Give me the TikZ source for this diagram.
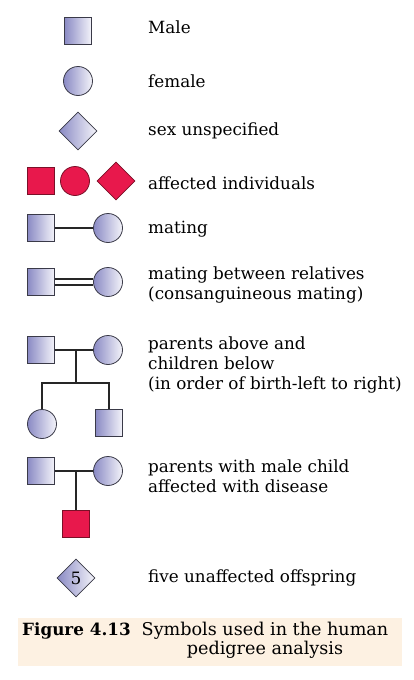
\documentclass[tikz,border=0pt]{standalone}
\usepackage{fontspec}
\setmainfont{DejaVu Serif}
\usetikzlibrary{shapes.geometric}
\definecolor{lav}{HTML}{8A8AC4}
\definecolor{lavlight}{HTML}{F4F4FA}
\definecolor{edge}{HTML}{3A3A48}
\definecolor{aff}{HTML}{E8184C}
\definecolor{affedge}{HTML}{7A1028}
\definecolor{peach}{HTML}{FDF1E2}
\tikzset{
  symsq/.style={rectangle, minimum size=27, inner sep=0, draw=edge, line width=0.8, left color=lav, right color=lavlight},
  symci/.style={circle, minimum size=29, inner sep=0, draw=edge, line width=0.8, left color=lav, right color=lavlight},
  symdi/.style={diamond, minimum width=38, minimum height=38, inner sep=0, draw=edge, line width=0.8, left color=lav, right color=lavlight},
  affsq/.style={rectangle, minimum size=27, inner sep=0, draw=affedge, line width=0.8, fill=aff},
  affci/.style={circle, minimum size=29, inner sep=0, draw=affedge, line width=0.8, fill=aff},
  affdi/.style={diamond, minimum width=38, minimum height=38, inner sep=0, draw=affedge, line width=0.8, fill=aff},
  lbl/.style={anchor=west, align=left, inner sep=0, font=\fontsize{16.8}{20}\selectfont},
  conn/.style={line width=1.4, draw=black!85}
}
\begin{document}
\begin{tikzpicture}[x=1pt,y=-1pt]
\useasboundingbox (0,0) rectangle (413,680);
% legend symbols
\node[symsq] (male) at (78,31) {};
\node[lbl] (tmale) at (148,27) {Male};
\node[symci] (female) at (78,81) {};
\node[lbl] (tfemale) at (148,81) {female};
\node[symdi] (unsp) at (78,131) {};
\node[lbl] (tunsp) at (148,131) {sex unspecified};
\node[affsq] (am) at (41,181) {};
\node[affci] (af) at (75,181) {};
\node[affdi] (ad) at (116,181) {};
\node[lbl] (taff) at (148,183) {affected individuals};
% mating
\node[symsq] (m1) at (41,228) {};
\node[symci] (f1) at (108,228) {};
\draw[conn] (m1.east) -- (f1.west);
\node[lbl] (tmat) at (148,229) {mating};
% consanguineous
\node[symsq] (m2) at (41,282) {};
\node[symci] (f2) at (108,282) {};
\draw[conn, line width=1.2] ([yshift=-3]m2.east) -- ([yshift=-3]f2.west);
\draw[conn, line width=1.2] ([yshift=3]m2.east) -- ([yshift=3]f2.west);
\node[lbl] (tcons) at (148,285) {mating between relatives\\(consanguineous mating)};
% parents and children
\node[symsq] (m3) at (41,350) {};
\node[symci] (f3) at (108,350) {};
\coordinate (mid3) at (76,350);
\coordinate (drop3) at (76,383);
\node[symci] (c1) at (42,424) {};
\node[symsq] (c2) at (109,423) {};
\draw[conn] (m3.east) -- (f3.west);
\draw[conn] (mid3) -- (drop3);
\draw[conn] (c1.north) |- (drop3) -| (c2.north);
\node[lbl] (tpar) at (148,365) {parents above and\\children below\\(in order of birth-left to right)};
% affected child
\node[symsq] (m4) at (41,471) {};
\node[symci] (f4) at (108,471) {};
\coordinate (mid4) at (76,471);
\node[affsq] (c4) at (76,524) {};
\draw[conn] (m4.east) -- (f4.west);
\draw[conn] (mid4) -- (c4.north);
\node[lbl] (tpar2) at (148,476) {parents with male child\\affected with disease};
% five
\node[symdi, font=\fontsize{17}{18}\selectfont] (five) at (76,578) {5};
\node[lbl] (tfive) at (148,578) {five unaffected offspring};
% caption
\node[rectangle, fill=peach, minimum width=384, minimum height=48, inner sep=0] (cap) at (210,641.5) {};
\node[anchor=west, inner sep=0, font=\fontsize{16.8}{20}\selectfont\bfseries] (fig) at (22,631) {Figure 4.13};
\node[anchor=center, align=center, inner sep=0, font=\fontsize{17.6}{19.5}\selectfont] (captxt) at (265,640.5) {Symbols used in the human\\pedigree analysis};
\end{tikzpicture}
\end{document}
